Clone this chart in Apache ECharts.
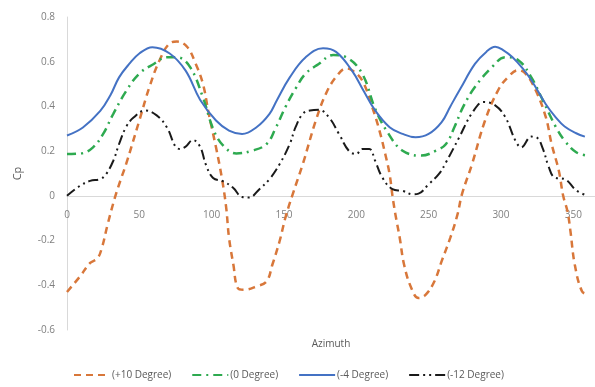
<!DOCTYPE html>
<html>
<head>
<meta charset="utf-8">
<script src="https://cdn.jsdelivr.net/npm/echarts@6/dist/echarts.min.js"></script>
<style>
html,body{margin:0;padding:0;background:#fff;}
#chart{width:595px;height:387px;}
</style>
</head>
<body>
<div id="chart"></div>
<script>
// Series names
var seriesNames = ['(+10 Degree)', '(0 Degree)', '(-4 Degree)', '(-12 Degree)'];

// +10 Degree
var azPlus10 = [0, 9, 16, 21, 24, 28, 33, 37, 41, 50, 57, 64, 71, 76, 83, 89, 94, 98, 103, 107, 110, 112, 115, 118, 122, 131, 138, 142, 147, 151, 156, 163, 172, 179, 186, 193, 197, 204, 211, 216, 220, 223, 225, 227, 230, 233, 238, 243, 248, 254, 259, 265, 270, 273, 280, 289, 298, 305, 312, 317, 324, 331, 335, 340, 343, 346, 348, 351, 356, 360];
var cpPlus10 = [-0.43, -0.36, -0.30, -0.28, -0.235, -0.13, -0.01, 0.07, 0.145, 0.337, 0.487, 0.607, 0.682, 0.69, 0.667, 0.59, 0.50, 0.367, 0.217, 0.082, -0.05, -0.187, -0.307, -0.412, -0.42, -0.405, -0.382, -0.307, -0.202, -0.097, 0.007, 0.142, 0.337, 0.457, 0.532, 0.57, 0.562, 0.517, 0.397, 0.292, 0.187, 0.097, 0.0, -0.082, -0.187, -0.307, -0.412, -0.457, -0.442, -0.382, -0.292, -0.187, -0.082, 0.007, 0.142, 0.337, 0.472, 0.532, 0.562, 0.547, 0.472, 0.352, 0.232, 0.112, 0.0, -0.07, -0.157, -0.307, -0.427, -0.44];

// 0 Degree
var az0 = [0, 10, 18, 25, 32, 41, 50, 60, 69, 76, 85, 94, 101, 108, 117, 128, 138, 144, 151, 158, 165, 174, 184, 193, 204, 213, 222, 232, 245, 255, 262, 268, 274, 282, 294, 303, 312, 321, 328, 338, 344, 352, 360];
var cp0 = [0.187, 0.19, 0.217, 0.277, 0.367, 0.47, 0.547, 0.59, 0.62, 0.62, 0.577, 0.44, 0.30, 0.225, 0.19, 0.202, 0.232, 0.30, 0.397, 0.48, 0.547, 0.59, 0.63, 0.62, 0.547, 0.39, 0.28, 0.202, 0.18, 0.202, 0.232, 0.31, 0.40, 0.487, 0.577, 0.62, 0.607, 0.53, 0.44, 0.307, 0.247, 0.195, 0.18];

// -4 Degree
var azMinus4 = [0, 11, 23, 30, 36, 43, 50, 59, 71, 82, 92, 103, 112, 121, 131, 140, 145, 154, 165, 177, 186, 197, 205, 213, 223, 232, 241, 250, 259, 265, 272, 282, 290, 296, 302, 308, 315, 321, 331, 338, 344, 352, 358];
var cpMinus4 = [0.27, 0.306, 0.38, 0.45, 0.53, 0.59, 0.637, 0.665, 0.637, 0.56, 0.43, 0.337, 0.292, 0.277, 0.307, 0.367, 0.427, 0.53, 0.62, 0.66, 0.644, 0.56, 0.47, 0.382, 0.307, 0.277, 0.262, 0.277, 0.33, 0.40, 0.48, 0.59, 0.645, 0.667, 0.65, 0.62, 0.57, 0.517, 0.41, 0.35, 0.31, 0.28, 0.265];

// -12 Degree
var azMinus12 = [0, 9, 16, 23, 27, 32, 36, 41, 46, 54, 62, 69, 75, 78, 82, 87, 92, 96, 101, 108, 115, 121, 126, 133, 140, 147, 154, 158, 163, 168, 174, 181, 188, 195, 200, 204, 209, 213, 218, 225, 232, 239, 243, 250, 257, 262, 271, 280, 288, 296, 303, 310, 314, 321, 325, 329, 333, 337, 344, 352, 358];
var cpMinus12 = [0.0, 0.045, 0.067, 0.075, 0.097, 0.157, 0.232, 0.31, 0.35, 0.382, 0.36, 0.307, 0.22, 0.21, 0.22, 0.25, 0.22, 0.14, 0.08, 0.065, 0.035, -0.005, -0.007, 0.03, 0.075, 0.142, 0.232, 0.307, 0.367, 0.382, 0.385, 0.352, 0.277, 0.2, 0.187, 0.21, 0.21, 0.157, 0.082, 0.03, 0.022, 0.007, 0.01, 0.052, 0.097, 0.15, 0.26, 0.37, 0.42, 0.405, 0.352, 0.247, 0.217, 0.265, 0.26, 0.21, 0.13, 0.082, 0.075, 0.025, 0.005];

// Axis ticks
var xTicks = [0, 50, 100, 150, 200, 250, 300, 350];
var yTicks = [-0.6, -0.4, -0.2, 0, 0.2, 0.4, 0.6, 0.8];
var yMin = -0.6, yMax = 0.8;

function pairs(xs, ys) {
  var out = [];
  for (var i = 0; i < xs.length; i++) out.push([xs[i], ys[i]]);
  return out;
}

var colors = ['#D8773A', '#2EAA50', '#4472C4', '#1a1a1a'];
var dashes = [[7, 5], [9, 5, 2, 5], 'solid', [10, 4, 2, 4, 2, 4]];
var widths = [2.5, 2.5, 2, 2];
var datasets = [pairs(azPlus10, cpPlus10), pairs(az0, cp0), pairs(azMinus4, cpMinus4), pairs(azMinus12, cpMinus12)];

var gridTop = 17, gridBottom = 57, chartH = 387;
var plotH = chartH - gridTop - gridBottom;
// move the x axis up so that it sits on y = 0 (Excel style: axis crosses at zero)
var xAxisOffset = -Math.round(plotH * (0 - yMin) / (yMax - yMin));

var series = seriesNames.map(function (n, i) {
  return {
    name: n,
    type: 'line',
    data: datasets[i],
    smooth: 0.4,
    symbol: 'none',
    showSymbol: false,
    lineStyle: { color: colors[i], width: widths[i], type: dashes[i] },
    itemStyle: { color: colors[i] }
  };
});

var chart = echarts.init(document.getElementById('chart'), null, { renderer: 'canvas' });
chart.setOption({
  animation: false,
  backgroundColor: '#ffffff',
  grid: { left: 67, right: 0, top: gridTop, bottom: gridBottom, containLabel: false, outerBoundsMode: 'none' },
  xAxis: {
    type: 'value',
    min: 0,
    max: 365,
    interval: 50,
    position: 'bottom',
    offset: xAxisOffset,
    name: 'Azimuth',
    nameLocation: 'middle',
    nameGap: 143,
    nameTextStyle: { color: '#595959', fontSize: 10, fontFamily: 'Open Sans' },
    axisLine: { show: true, onZero: false, lineStyle: { color: '#d9d9d9', width: 1 } },
    axisTick: { show: false },
    splitLine: { show: false },
    axisLabel: {
      color: '#808080', fontSize: 10, fontFamily: 'Open Sans', margin: 14,
      formatter: function (v) { return xTicks.indexOf(v) >= 0 ? String(v) : ''; }
    }
  },
  yAxis: {
    type: 'value',
    min: yMin,
    max: yMax,
    interval: 0.2,
    name: 'Cp',
    nameLocation: 'middle',
    nameGap: 44,
    nameRotate: 90,
    nameTextStyle: { color: '#595959', fontSize: 11, fontFamily: 'Open Sans' },
    axisLine: { show: true, onZero: false, lineStyle: { color: '#d9d9d9', width: 1 } },
    axisTick: { show: false },
    splitLine: { show: false },
    axisLabel: {
      color: '#808080', fontSize: 10, fontFamily: 'Open Sans', margin: 12,
      formatter: function (v) {
        var r = Math.round(v * 10) / 10;
        for (var i = 0; i < yTicks.length; i++) if (Math.abs(yTicks[i] - r) < 1e-6) return String(yTicks[i]);
        return '';
      }
    }
  },
  legend: {
    data: seriesNames,
    left: 68,
    top: 365,
    itemWidth: 36,
    itemHeight: 10,
    itemGap: 20,
    itemStyle: { opacity: 0 },
    textStyle: { color: '#595959', fontSize: 10, fontFamily: 'Open Sans', padding: [0, 0, 0, -3] }
  },
  series: series
});
</script>
</body>
</html>
